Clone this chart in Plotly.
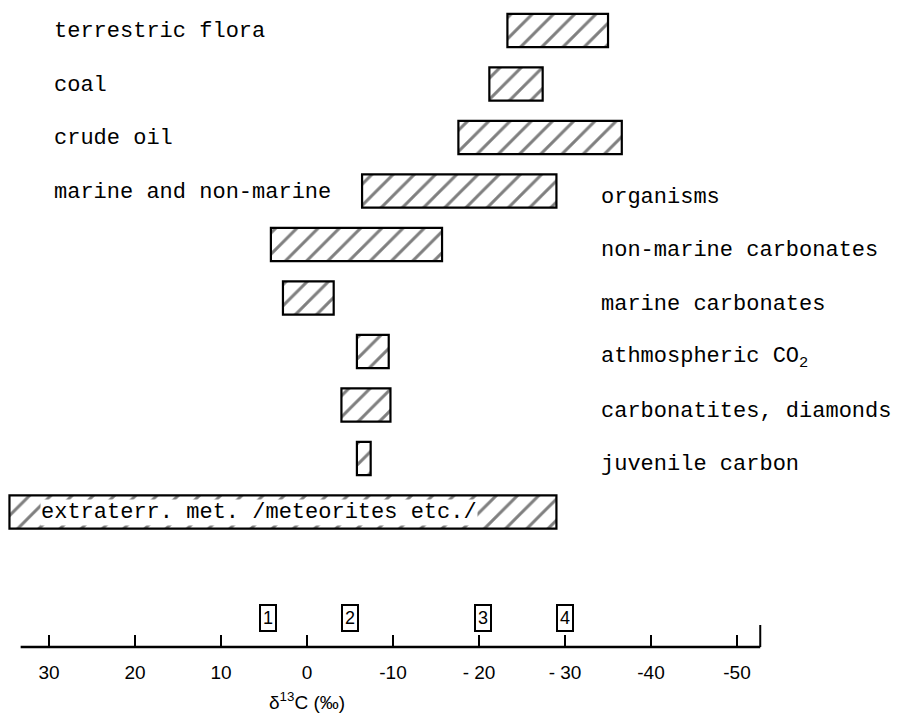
import plotly.graph_objects as go

# ---- data ----
categories = ["terrestric flora", "coal", "crude oil", "marine and non-marine organisms",
              "non-marine carbonates", "marine carbonates", "athmospheric CO2",
              "carbonatites, diamonds", "juvenile carbon", "extraterr. met. /meteorites etc./"]
range_start = [-23.3, -21.2, -17.6, -6.4, 4.2, 2.8, -5.8, -4.0, -5.8, 34.6]
range_end = [-35.0, -27.4, -36.6, -29.0, -15.7, -3.1, -9.5, -9.7, -7.4, -29.0]

left_labels = ["terrestric flora", "coal", "crude oil", "marine and non-marine"]
left_label_rows = [0, 1, 2, 3]
right_labels = ["organisms", "non-marine carbonates", "marine carbonates",
                "athmospheric CO<sub>2</sub>", "carbonatites, diamonds", "juvenile carbon"]
right_label_rows = [3, 4, 5, 6, 7, 8]
inside_label = "extraterr. met. /meteorites etc./"
inside_label_row = 9

tick_vals = [30, 20, 10, 0, -10, -20, -30, -40, -50]
tick_text = ["30", "20", "10", "0", "-10", "- 20", "- 30", "-40", "-50"]
axis_start, axis_end = 33.3, -52.7

marker_labels = ["1", "2", "3", "4"]
marker_pos = [4.5, -5.0, -20.5, -30.0]

axis_title = "δ<sup>13</sup>C (‰)"

# ---- figure ----
rows = list(range(len(categories)))
lengths = [e - s for s, e in zip(range_start, range_end)]

PLOT_H = 639  # plot area height in px

fig = go.Figure()
fig.add_trace(go.Bar(
    orientation="h", y=rows, x=lengths, base=range_start, width=0.62,
    marker=dict(color="white", line=dict(color="black", width=2.2),
                pattern=dict(shape="/", fgcolor="black", bgcolor="white", size=15, solidity=0.2)),
    hoverinfo="skip", showlegend=False,
))

mono = dict(family="Liberation Mono, Courier New, monospace", size=22, color="black")
ann = []
for lab, r in zip(left_labels, left_label_rows):
    ann.append(dict(x=44 / 900, xref="paper", y=r, yref="y", text=lab, showarrow=False,
                    xanchor="left", yanchor="middle", font=mono, yshift=-1))
for lab, r in zip(right_labels, right_label_rows):
    ann.append(dict(x=591 / 900, xref="paper", y=r, yref="y", text=lab, showarrow=False,
                    xanchor="left", yanchor="middle", font=mono, yshift=-6))
ann.append(dict(x=32 / 900, xref="paper", y=inside_label_row, yref="y", text=inside_label,
                showarrow=False, xanchor="left", yanchor="middle", font=mono,
                bgcolor="white", borderpad=0))
for lab, xv in zip(marker_labels, marker_pos):
    ann.append(dict(x=xv, xref="x", y=29 / PLOT_H, yref="paper", text=lab, showarrow=False,
                    xanchor="center", yanchor="middle",
                    font=dict(family="Liberation Sans Narrow, Liberation Sans, Arial", size=18, color="black"),
                    bordercolor="black", borderwidth=2, borderpad=2, bgcolor="white"))
ann.append(dict(x=0, xref="x", y=-54 / PLOT_H, yref="paper", text=axis_title, showarrow=False,
                xanchor="center", yanchor="middle",
                font=dict(family="Liberation Sans, Arial", size=19, color="black")))

shapes = [
    dict(type="line", xref="x", yref="paper", x0=axis_start, x1=axis_end, y0=0, y1=0,
         line=dict(color="black", width=2.5)),
    dict(type="line", xref="x", yref="paper", x0=axis_end, x1=axis_end, y0=0, y1=22 / PLOT_H,
         line=dict(color="black", width=2)),
]

fig.update_layout(
    width=900, height=720,
    margin=dict(l=0, r=0, t=0, b=720 - PLOT_H),
    paper_bgcolor="white", plot_bgcolor="white",
    annotations=ann, shapes=shapes,
    xaxis=dict(range=[34.77, -69.88], showline=False, showgrid=False, zeroline=False,
               tickvals=tick_vals, ticktext=tick_text, ticks="inside", ticklen=12,
               tickwidth=1.5, tickcolor="black", ticklabelstandoff=12,
               tickfont=dict(family="Liberation Sans Narrow, Liberation Sans, Arial", size=19, color="black")),
    yaxis=dict(range=[11.523, -0.4206], visible=False, showgrid=False, zeroline=False),
)

fig.write_html("out.html")
